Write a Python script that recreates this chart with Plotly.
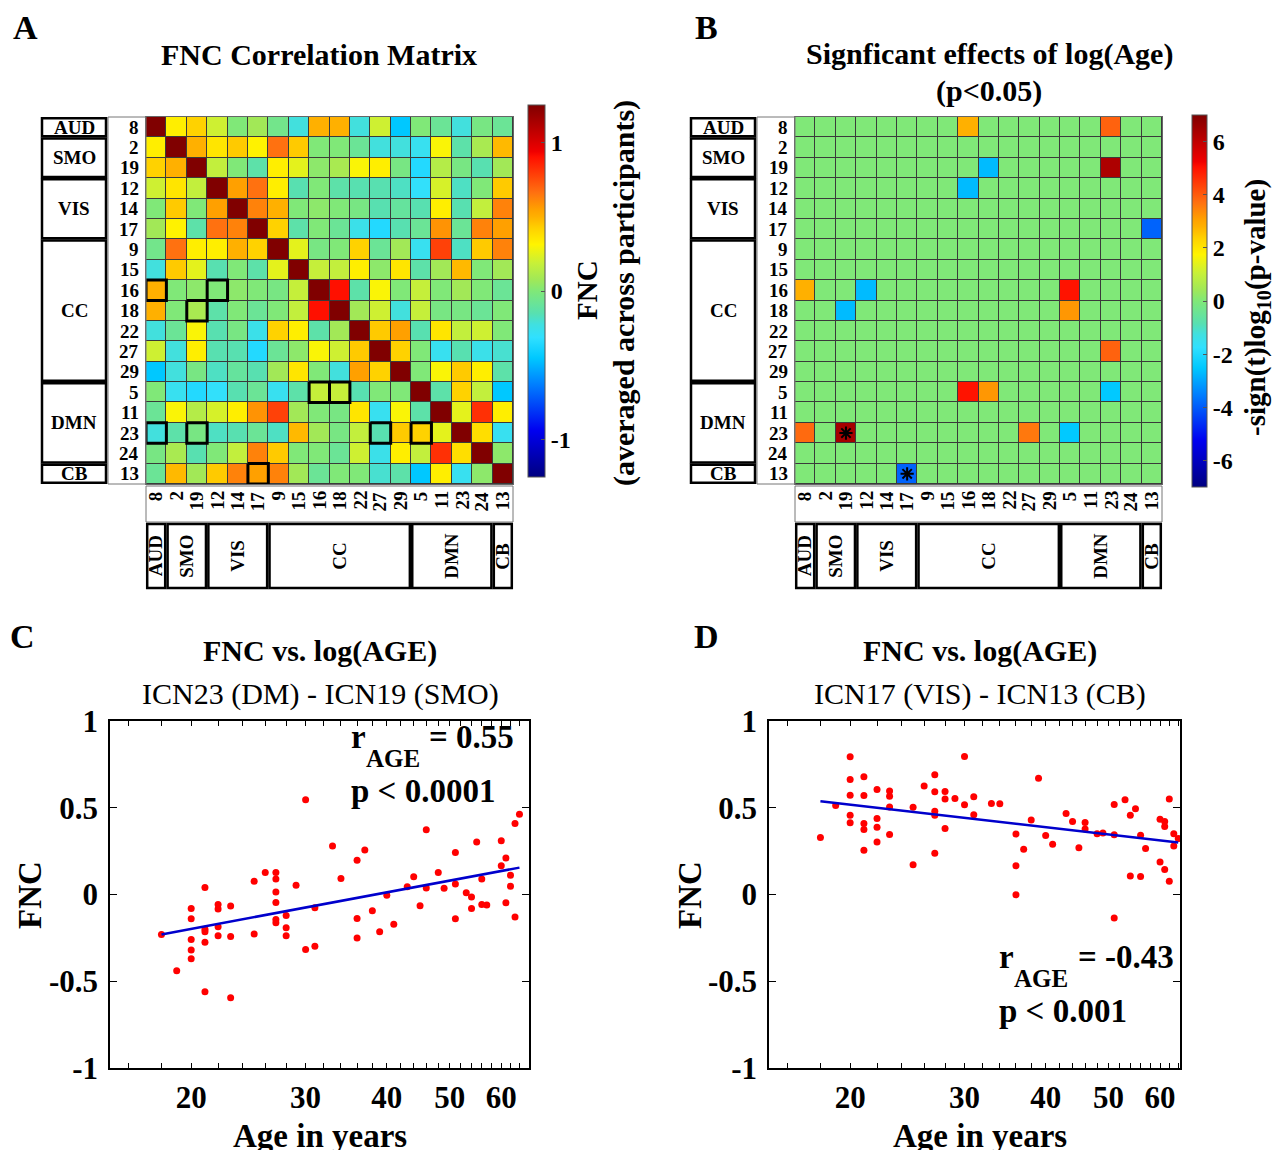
import numpy as np
import plotly.graph_objects as go

W, H = 1277, 1150
FONT = "Liberation Serif"

# ---------------- data ----------------
icn_labels = ["8", "2", "19", "12", "14", "17", "9", "15", "16", "18", "22", "27", "29", "5", "11", "23", "24", "13"]
network_names = ["AUD", "SMO", "VIS", "CC", "DMN", "CB"]
network_sizes = [1, 2, 3, 7, 4, 1]

# upper triangle of the averaged FNC matrix (row ICN vs. the ICNs that follow it)
fnc_row_8 = [0.33, 0.42, 0.20, 0.00, 0.08, -0.05, -0.22, 0.50, 0.50, -0.22, 0.20, -0.45, 0.00, -0.08, -0.22, -0.03, -0.08]
fnc_row_2 = [0.50, 0.36, 0.44, 0.32, 0.66, 0.44, 0.00, 0.00, -0.08, -0.22, -0.22, -0.27, 0.30, -0.13, 0.10, 0.48]
fnc_row_19 = [0.17, 0.00, -0.13, 0.33, 0.25, 0.03, 0.10, 0.30, 0.33, -0.03, -0.35, 0.13, -0.03, -0.15, 0.08]
fnc_row_12 = [0.55, 0.66, 0.33, -0.15, 0.00, -0.13, -0.15, -0.15, -0.18, -0.30, 0.22, -0.18, 0.00, 0.44]
fnc_row_14 = [0.62, 0.50, 0.00, 0.03, 0.00, -0.03, -0.15, -0.10, -0.15, 0.33, -0.15, 0.17, 0.62]
fnc_row_17 = [0.42, -0.13, 0.00, -0.08, -0.25, -0.35, -0.15, -0.08, 0.58, -0.08, 0.62, 0.55]
fnc_row_9 = [0.25, -0.03, 0.00, 0.42, -0.08, 0.08, -0.27, 0.78, -0.18, 0.44, 0.62]
fnc_row_15 = [0.18, 0.17, 0.33, 0.03, 0.36, -0.13, 0.08, 0.48, 0.00, 0.08]
fnc_row_16 = [0.90, -0.13, 0.30, 0.00, 0.18, 0.00, 0.08, 0.00, -0.08]
fnc_row_18 = [0.08, 0.20, -0.22, 0.18, -0.03, -0.03, -0.08, 0.00]
fnc_row_22 = [0.44, 0.55, -0.15, 0.36, 0.17, 0.20, 0.00]
fnc_row_27 = [0.42, 0.00, -0.27, -0.15, -0.25, -0.20]
fnc_row_29 = [0.00, 0.30, 0.44, 0.33, -0.13]
fnc_row_5 = [-0.13, 0.42, 0.17, -0.45]
fnc_row_11 = [0.25, 0.82, 0.33]
fnc_row_23 = [0.38, -0.27]
fnc_row_24 = [0.03]
fnc_diag = 1.25

# highlighted cells in A (row index, column index)
box_rows = [8, 8, 9, 13, 13, 15, 15, 15, 15, 17]
box_cols = [0, 3, 2, 8, 9, 0, 2, 11, 13, 5]

# significant effects in B
sig_rows = [0, 0, 2, 2, 3, 5, 8, 8, 8, 9, 9, 11, 13, 13, 13, 15, 15, 15, 15, 17]
sig_cols = [8, 15, 9, 15, 8, 17, 0, 3, 13, 2, 13, 15, 8, 9, 15, 0, 2, 11, 13, 5]
sig_vals = [2.8, 3.9, -2.7, 6.3, -2.7, -3.9, 2.8, -2.7, 5.0, -2.7, 3.2, 3.9, 5.0, 3.2, -2.5, 3.8, 6.4, 3.6, -2.5, -3.9]
star_rows = [15, 17]
star_cols = [2, 5]

# panel C: ICN23 (DM) - ICN19 (SMO)
age_c = [18, 19, 20, 20, 20, 20, 20, 21, 21, 21, 21, 21, 22, 22, 22, 22, 23, 23, 23, 25, 25, 26,
         27, 27, 27, 27, 27, 27, 28, 28, 28, 29, 30, 30, 31, 31, 33, 34, 36, 36, 36, 37, 38, 39,
         40, 41, 43, 44, 45, 46, 46, 48, 49, 51, 51, 51, 53, 54, 54, 55, 56, 56, 57, 60, 60, 61,
         61, 62, 62, 63, 63, 64]
fnc_c = [-0.23, -0.44, -0.08, -0.14, -0.26, -0.32, -0.37, 0.04, -0.20, -0.215, -0.275, -0.56,
         -0.058, -0.083, -0.186, -0.238, -0.067, -0.242, -0.595, 0.077, -0.227, 0.127,
         0.127, 0.09, 0.015, -0.046, -0.144, -0.163, -0.121, -0.192, -0.238, 0.054, 0.546, -0.317,
         -0.077, -0.298, 0.279, 0.092, 0.198, -0.138, -0.25, 0.257, -0.094, -0.215,
         -0.004, -0.171, 0.044, 0.102, -0.065, 0.373, 0.038, 0.127, 0.036, 0.242, 0.06, -0.14,
         0.01, -0.015, -0.08, 0.302, 0.09, -0.058, -0.06, 0.31, 0.165, 0.21,
         -0.048, 0.111, 0.048, 0.409, -0.13, 0.463]
fit_c_age = [18, 64]
fit_c_fnc = [-0.23, 0.155]

# panel D: ICN17 (VIS) - ICN13 (CB)
age_d = [18, 19, 20, 20, 20, 20, 20, 21, 21, 21, 21, 21, 22, 22, 22, 22, 23, 23, 23, 23, 25, 25,
         26, 27, 27, 27, 27, 27, 28, 28, 28, 29, 30, 30, 31, 31, 33, 34, 36, 36, 36, 37, 38, 39,
         40, 41, 43, 44, 45, 46, 46, 48, 49, 51, 51, 51, 53, 54, 54, 55, 56, 56, 57, 60, 60,
         61, 61, 61, 62, 62, 63, 63, 64]
fnc_d = [0.329, 0.513, 0.794, 0.663, 0.572, 0.457, 0.413, 0.678, 0.571, 0.409, 0.375, 0.255,
         0.605, 0.438, 0.388, 0.302, 0.596, 0.567, 0.505, 0.346, 0.503, 0.171,
         0.626, 0.69, 0.592, 0.48, 0.457, 0.238, 0.594, 0.551, 0.38, 0.553, 0.795, 0.517,
         0.563, 0.459, 0.524, 0.523, 0.348, 0.165, -0.002, 0.261, 0.43, 0.67,
         0.34, 0.29, 0.467, 0.421, 0.269, 0.415, 0.378, 0.35, 0.355, 0.519, 0.344, -0.136,
         0.546, 0.457, 0.106, 0.494, 0.342, 0.104, 0.265, 0.434, 0.188,
         0.421, 0.392, 0.144, 0.551, 0.077, 0.35, 0.279, 0.323]
fit_d_age = [18, 64]
fit_d_fnc = [0.538, 0.30]

age_major_ticks = [20, 30, 40, 50, 60]
age_minor_ticks = [16, 18, 22, 24, 26, 28, 32, 34, 36, 38, 42, 44, 46, 48, 52, 54, 56, 58, 62, 64]
fnc_ticks = [-1, -0.5, 0, 0.5, 1]
fnc_tick_text = ["-1", "-0.5", "0", "0.5", "1"]
cbar_a_ticks = [-1, 0, 1]
cbar_b_ticks = [-6, -4, -2, 0, 2, 4, 6]

# ---------------- build matrices ----------------
n = len(icn_labels)
upper_rows = [fnc_row_8, fnc_row_2, fnc_row_19, fnc_row_12, fnc_row_14, fnc_row_17, fnc_row_9,
              fnc_row_15, fnc_row_16, fnc_row_18, fnc_row_22, fnc_row_27, fnc_row_29, fnc_row_5,
              fnc_row_11, fnc_row_23, fnc_row_24]
fnc_mat = np.full((n, n), fnc_diag)
for i, row in enumerate(upper_rows):
    for k, v in enumerate(row):
        j = i + 1 + k
        fnc_mat[i, j] = v
        fnc_mat[j, i] = v

sig_mat = np.zeros((n, n))
for r, c, v in zip(sig_rows, sig_cols, sig_vals):
    sig_mat[r, c] = v

jet = [[0.0, "#000080"], [0.125, "#0000F0"], [0.25, "#0080FF"], [0.32, "#00C8FF"],
       [0.375, "#30E0FF"], [0.41, "#40E0E0"], [0.44, "#58E0B0"], [0.5, "#80E878"],
       [0.53, "#A0E858"], [0.575, "#C8F038"], [0.625, "#FFF400"], [0.67, "#FFD000"],
       [0.70, "#FFB000"], [0.72, "#FFA000"], [0.765, "#FF7010"], [0.86, "#FF1000"],
       [0.875, "#F00000"], [1.0, "#800000"]]


def PX(x):
    return x / W


def PY(y):
    return 1 - y / H


# pixel geometry
MA_X0, MA_X1 = 146, 513
MB_X0, MB_X1 = 795, 1162
M_Y0, M_Y1 = 117, 484
CELL = (M_Y1 - M_Y0) / n
SC_Y0, SC_Y1 = 721, 1068
C_X0, C_X1 = 110, 529
D_X0, D_X1 = 769, 1180

fig = go.Figure()

bold = dict(family=FONT, size=24, color="black", weight="bold")

fig.add_trace(go.Heatmap(
    z=fnc_mat, x=list(range(n)), y=list(range(n)), colorscale=jet, zmin=-1.25, zmax=1.25,
    xgap=1, ygap=1, xaxis="x", yaxis="y", hoverinfo="skip",
    colorbar=dict(x=PX(528), xanchor="left", y=PY(291), yanchor="middle", len=372, lenmode="pixels",
                  thickness=17, thicknessmode="pixels", xpad=0, ypad=0, outlinewidth=1,
                  outlinecolor="#555", tickvals=cbar_a_ticks, ticktext=[str(t) for t in cbar_a_ticks],
                  ticks="inside", ticklen=4, tickcolor="#555", tickfont=bold)))

# highlight boxes
bx, by = [], []
for r, c in zip(box_rows, box_cols):
    bx += [c - 0.5, c + 0.5, c + 0.5, c - 0.5, c - 0.5, None]
    by += [r - 0.5, r - 0.5, r + 0.5, r + 0.5, r - 0.5, None]
fig.add_trace(go.Scatter(x=bx, y=by, mode="lines", line=dict(color="black", width=3),
                         cliponaxis=False, xaxis="x", yaxis="y", hoverinfo="skip", showlegend=False))

fig.add_trace(go.Heatmap(
    z=sig_mat, x=list(range(n)), y=list(range(n)), colorscale=jet, zmin=-7, zmax=7,
    xgap=1, ygap=1, xaxis="x2", yaxis="y2", hoverinfo="skip",
    colorbar=dict(x=PX(1192), xanchor="left", y=PY(301), yanchor="middle", len=372, lenmode="pixels",
                  thickness=15, thicknessmode="pixels", xpad=0, ypad=0, outlinewidth=1,
                  outlinecolor="#555", tickvals=cbar_b_ticks, ticktext=[str(t) for t in cbar_b_ticks],
                  ticks="inside", ticklen=4, tickcolor="#555", tickfont=bold)))

fig.add_trace(go.Scatter(x=star_cols, y=star_rows, mode="markers",
                         marker=dict(symbol="asterisk-open", size=11, color="black",
                                     line=dict(color="black", width=2)),
                         xaxis="x2", yaxis="y2", hoverinfo="skip", showlegend=False))

# scatter panels
fig.add_trace(go.Scatter(x=age_c, y=fnc_c, mode="markers", marker=dict(color="#FF0000", size=7),
                         xaxis="x3", yaxis="y3", showlegend=False))
fig.add_trace(go.Scatter(x=fit_c_age, y=fit_c_fnc, mode="lines", line=dict(color="#0000CC", width=2.5),
                         xaxis="x3", yaxis="y3", showlegend=False))
fig.add_trace(go.Scatter(x=age_d, y=fnc_d, mode="markers", marker=dict(color="#FF0000", size=7),
                         xaxis="x4", yaxis="y4", showlegend=False))
fig.add_trace(go.Scatter(x=fit_d_age, y=fit_d_fnc, mode="lines", line=dict(color="#0000CC", width=2.5),
                         xaxis="x4", yaxis="y4", showlegend=False))

mat_axis = dict(range=[-0.5, n - 0.5], showticklabels=False, ticks="", showgrid=False, zeroline=False,
                showline=True, linecolor="#666", linewidth=1, mirror=True)
tickfont = dict(family=FONT, size=31, color="black", weight="bold")


def age_axis(x0, x1, right_log):
    return dict(domain=[PX(x0), PX(x1)], type="log", range=[np.log10(15), right_log],
                tickvals=age_major_ticks, ticktext=[str(t) for t in age_major_ticks],
                ticks="inside", ticklen=5, tickwidth=1.2, tickcolor="black", mirror="allticks",
                showline=True, linewidth=1.5, linecolor="black", showgrid=False, zeroline=False,
                tickfont=tickfont, ticklabelstandoff=1, automargin=False,
                minor=dict(tickvals=age_minor_ticks, ticks="inside", ticklen=5, tickcolor="black",
                           tickwidth=1.2, showgrid=False))


def fnc_axis():
    return dict(domain=[PY(SC_Y1), PY(SC_Y0)], range=[-1, 1], tickvals=fnc_ticks, ticktext=fnc_tick_text,
                ticks="inside", ticklen=7, tickwidth=1.2, tickcolor="black", mirror="allticks",
                showline=True, linewidth=1.5, linecolor="black", showgrid=False, zeroline=False,
                tickfont=tickfont, ticklabelstandoff=4, automargin=False)


fig.update_layout(
    width=W, height=H, autosize=False,
    margin=dict(l=0, r=0, t=0, b=0, pad=0, autoexpand=False),
    paper_bgcolor="white", plot_bgcolor="white", showlegend=False,
    xaxis=dict(domain=[PX(MA_X0), PX(MA_X1)], anchor="y", **mat_axis),
    yaxis=dict(domain=[PY(M_Y1), PY(M_Y0)], anchor="x", **{**mat_axis, "range": [n - 0.5, -0.5]}),
    xaxis2=dict(domain=[PX(MB_X0), PX(MB_X1)], anchor="y2", **mat_axis),
    yaxis2=dict(domain=[PY(M_Y1), PY(M_Y0)], anchor="x2", **{**mat_axis, "range": [n - 0.5, -0.5]}),
    xaxis3=dict(anchor="y3", **age_axis(C_X0, C_X1, np.log10(66.2))),
    yaxis3=dict(anchor="x3", **fnc_axis()),
    xaxis4=dict(anchor="y4", **age_axis(D_X0, D_X1, np.log10(64.4))),
    yaxis4=dict(anchor="x4", **fnc_axis()),
)

shapes = []
annotations = []


def text(t, x, y, size, bold_=True, xanchor="center", yanchor="middle", angle=0, xref="paper", yref="paper"):
    xx = PX(x) if xref == "paper" else x
    yy = PY(y) if yref == "paper" else y
    annotations.append(dict(text=t, x=xx, y=yy, xref=xref, yref=yref, xanchor=xanchor, yanchor=yanchor,
                            textangle=angle, showarrow=False,
                            font=dict(family=FONT, size=size, color="black",
                                      weight="bold" if bold_ else "normal")))


def rect(x0, y0, x1, y1, width=1.0, color="black", fill=None, layer="above"):
    shapes.append(dict(type="rect", xref="paper", yref="paper",
                       x0=PX(x0), x1=PX(x1), y0=PY(y0), y1=PY(y1),
                       line=dict(color=color, width=width), fillcolor=fill, layer=layer))


# matrix backgrounds (grid colour shows through the cell gaps)
for xr, yr in (("x", "y"), ("x2", "y2")):
    shapes.append(dict(type="rect", xref=xr + " domain", yref=yr + " domain", x0=0, x1=1, y0=0, y1=1,
                       fillcolor="#3a3a3a", line=dict(width=0), layer="below"))

starts = np.concatenate([[0], np.cumsum(network_sizes)[:-1]])
for xref_, mx0, mx1 in (("x", MA_X0, MA_X1), ("x2", MB_X0, MB_X1)):
    yref_ = "y" if xref_ == "x" else "y2"
    dx = mx0 - MA_X0
    # numbers boxes
    rect(108 + dx, M_Y0, mx0, M_Y1, width=1, color="#777")
    rect(mx0, 486, mx1, 522, width=1, color="#777")
    # network boxes
    for name, s, k in zip(network_names, starts, network_sizes):
        rect(42 + dx, M_Y0 + s * CELL + 1.2, 106 + dx, M_Y0 + (s + k) * CELL - 1.2, width=2.5)
        text(name, 74 + dx, (s + (k - 1) / 2.0), 19, yref=yref_)
        rect(mx0 + s * CELL + 1.2, 524, mx0 + (s + k) * CELL - 1.2, 588, width=2.5)
        text(name, s + (k - 1) / 2.0, 556, 19, angle=-90, xref=xref_)
    for i, lab in enumerate(icn_labels):
        text(lab, mx0 - 5, i, 19, xanchor="right", yref=yref_)
        text(lab, i, 489, 19, yanchor="top", angle=-90, xref=xref_)

# titles and letters
text("A", 25, 28, 34)
text("B", 706, 28, 34)
text("C", 22, 636, 34)
text("D", 706, 636, 34)
text("FNC Correlation Matrix", 319, 54, 30)
text("Signficant effects of log(Age)", 989, 54, 30)
text("(p<0.05)", 989, 91, 30)
text("FNC", 587, 290, 29, angle=-90)
text("(averaged across participants)", 624, 293, 30, angle=-90)
text("-sign(t)log<sub>10</sub>(p-value)", 1257, 308, 29, angle=-90)

for cx, sub in ((320, "ICN23 (DM) - ICN19 (SMO)"), (980, "ICN17 (VIS) - ICN13 (CB)")):
    text("FNC vs. log(AGE)", cx, 651, 30)
    text(sub, cx, 694, 30, bold_=False)
    text("Age in years", cx, 1136, 33)
text("FNC", 30, 895, 33, angle=-90)
text("FNC", 690, 895, 33, angle=-90)

# statistics text
text("r", 349, 737, 33, xanchor="left")
text("AGE", 364, 758, 25, xanchor="left")
text("= 0.55", 427, 737, 33, xanchor="left")
text("p < 0.0001", 349, 791, 33, xanchor="left")
text("r", 997, 957, 33, xanchor="left")
text("AGE", 1012, 978, 25, xanchor="left")
text("= -0.43", 1076, 957, 33, xanchor="left")
text("p < 0.001", 997, 1011, 33, xanchor="left")

fig.update_layout(shapes=shapes, annotations=annotations)
fig.write_html("out.html", config={"displayModeBar": False},
               post_script="document.body.style.margin='0px';")
